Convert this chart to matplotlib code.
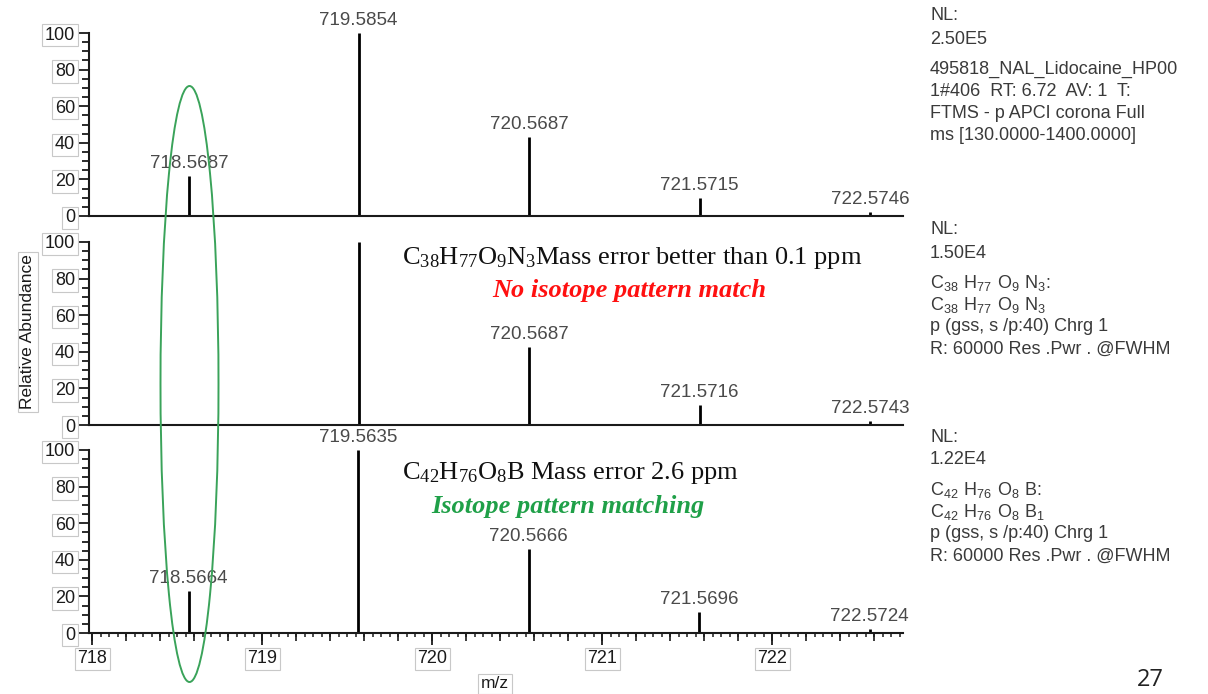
import matplotlib
matplotlib.use('Agg')
import matplotlib.pyplot as plt
from matplotlib.patches import Ellipse
from matplotlib.ticker import MultipleLocator

# peak centroids (m/z), relative abundance and printed labels per panel
top_mz = [718.5687, 719.5654, 720.5687, 721.5715, 722.5746]
top_int = [22, 100, 43, 10, 2.2]
top_lbl = ['718.5687', '719.5854', '720.5687', '721.5715', '722.5746']

mid_mz = [719.5654, 720.5687, 721.5716, 722.5743]
mid_int = [100, 42.5, 11, 2]
mid_lbl = ['', '720.5687', '721.5716', '722.5743']

bot_mz = [718.5664, 719.5635, 720.5666, 721.5696, 722.5724]
bot_int = [23, 100, 46, 11.5, 2]
bot_lbl = ['718.5664', '719.5635', '720.5666', '721.5696', '722.5724']

x_ticks = [718, 719, 720, 721, 722]
y_ticks = [0, 20, 40, 60, 80, 100]

info_top = ['NL:', '2.50E5', '495818_NAL_Lidocaine_HP00', '1#406  RT: 6.72  AV: 1  T:',
            'FTMS - p APCI corona Full', 'ms [130.0000-1400.0000]']
info_mid = ['NL:', '1.50E4', r'$\mathregular{C_{38}\ H_{77}\ O_{9}\ N_{3}}$:',
            r'$\mathregular{C_{38}\ H_{77}\ O_{9}\ N_{3}}$',
            'p (gss, s /p:40) Chrg 1', 'R: 60000 Res .Pwr . @FWHM']
info_bot = ['NL:', '1.22E4', r'$\mathregular{C_{42}\ H_{76}\ O_{8}\ B}$:',
            r'$\mathregular{C_{42}\ H_{76}\ O_{8}\ B_{1}}$',
            'p (gss, s /p:40) Chrg 1', 'R: 60000 Res .Pwr . @FWHM']

plt.rcParams['font.family'] = ['Liberation Sans', 'DejaVu Sans']

W, H = 1208, 694
fig = plt.figure(figsize=(W / 100, H / 100), dpi=100)

box = dict(boxstyle='square,pad=0.15', fc='white', ec='#c8c8c8', lw=0.8)
ink = '#1a1a1a'


def px(x, y):
    return x / W, 1 - y / H


def panel(bottom_px, mz, inten, labels, show_x):
    ax = fig.add_axes([89 / W, 1 - bottom_px / H, 814 / W, 183 / H])
    ax.vlines(mz, 0, inten, color='black', lw=2.0)
    for m, v, t in zip(mz, inten, labels):
        if t:
            ax.annotate(t, (m, v), xytext=(0, 3), textcoords='offset points',
                        ha='center', va='bottom', fontsize=13.5, color='#4a4a4a',
                        annotation_clip=False)
    ax.set_xlim(717.98, 722.768)
    ax.set_ylim(0, 100)
    for s in ['top', 'right']:
        ax.spines[s].set_visible(False)
    for s in ['left', 'bottom']:
        ax.spines[s].set_linewidth(1.5)
        ax.spines[s].set_color(ink)
    ax.set_yticks(y_ticks)
    ax.yaxis.set_minor_locator(MultipleLocator(5))
    ax.tick_params(axis='y', which='major', length=8.5, width=1.3, pad=1.5,
                   labelsize=13, colors=ink)
    ax.tick_params(axis='y', which='minor', length=5, width=1.3, colors=ink)
    for lbl in ax.get_yticklabels():
        lbl.set_bbox(box)
    if show_x:
        ax.set_xticks(x_ticks)
        ax.xaxis.set_minor_locator(MultipleLocator(0.05))
        ax.tick_params(axis='x', which='major', length=8.5, width=1.3, pad=4,
                       labelsize=13, colors=ink)
        ax.tick_params(axis='x', which='minor', length=3, width=1.1, colors=ink)
        for lbl in ax.get_xticklabels():
            lbl.set_bbox(box)
        sec = ax.secondary_xaxis('bottom')
        sec.xaxis.set_major_locator(MultipleLocator(0.2))
        sec.tick_params(length=5.5, width=1.2, labelbottom=False, colors=ink)
        sec.spines['bottom'].set_visible(False)
    else:
        ax.set_xticks([])
    return ax


ax_top = panel(216, top_mz, top_int, top_lbl, False)
ax_mid = panel(425, mid_mz, mid_int, mid_lbl, False)
ax_bot = panel(633, bot_mz, bot_int, bot_lbl, True)

# axis titles in little boxes, as in the Xcalibur export
fig.text(*px(28, 332), 'Relative Abundance', rotation=90, ha='center', va='center',
         fontsize=12.5, color=ink, bbox=box)
fig.text(*px(495, 684), 'm/z', ha='center', va='center', fontsize=12.5,
         color=ink, bbox=box)

# formula annotations
fig.text(*px(632, 258), r'$\mathregular{C_{38}H_{77}O_{9}N_{3}}$Mass error better than 0.1 ppm',
         family='Liberation Serif', fontsize=19, ha='center', va='center', color='#111111')
fig.text(*px(629, 291), 'No isotope pattern match', family='Liberation Serif',
         style='italic', weight='bold', fontsize=19, ha='center', va='center',
         color='#ff1010')
fig.text(*px(570, 473), r'$\mathregular{C_{42}H_{76}O_{8}B}$ Mass error 2.6 ppm',
         family='Liberation Serif', fontsize=19, ha='center', va='center', color='#111111')
fig.text(*px(568, 506), 'Isotope pattern matching', family='Liberation Serif',
         style='italic', weight='bold', fontsize=19, ha='center', va='center',
         color='#1fa048')

# scan info blocks on the right
for y0, lines in [(16, info_top), (230, info_mid), (437, info_bot)]:
    ys = [y0, y0 + 23] + [y0 + 53 + 22 * i for i in range(len(lines) - 2)]
    for y, t in zip(ys, lines):
        fig.text(*px(930, y), t, ha='left', va='center', fontsize=13, color='#3a3a3a')

# green ellipse around the 718.57 region
fig.add_artist(Ellipse(px(189.5, 384), 58 / W, 596 / H, transform=fig.transFigure,
                       fill=False, ec='#3aa35a', lw=1.4))

fig.text(*px(1150, 692), '27', ha='center', va='bottom', fontsize=17, color='#222222',
         family='Open Sans')

fig.savefig('out.png', dpi=100)
